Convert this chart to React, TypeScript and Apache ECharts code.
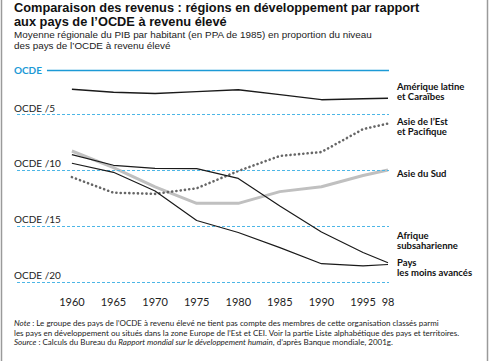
import React, { useEffect, useRef } from 'react';
import * as echarts from 'echarts';

const years = [1960, 1965, 1970, 1975, 1980, 1985, 1990, 1995, 1998];
// Values are the OECD divisor (income = OCDE / value)
const latinAmerica = [2.73, 3.0, 3.11, 2.94, 2.77, 3.21, 3.66, 3.57, 3.53];
const eastAsia = [10.6, 12.0, 12.1, 11.6, 10.05, 8.7, 8.35, 6.3, 5.8];
const southAsia = [8.26, 9.74, 11.48, 12.95, 12.95, 11.9, 11.46, 10.45, 9.96];
const subSaharan = [8.59, 9.54, 9.81, 9.84, 10.72, 13.19, 15.52, 17.35, 18.27];
const leastDeveloped = [9.36, 10.17, 11.84, 14.49, 15.56, 16.92, 18.36, 18.56, 18.43];

const xTickValues = [1960, 1965, 1970, 1975, 1980, 1985, 1990, 1995, 1998];
const refLevels = [5, 10, 15, 20];
const refLabels = ['OCDE /5', 'OCDE /10', 'OCDE /15', 'OCDE /20'];

const titleLines = [
  'Comparaison des revenus : régions en développement par rapport',
  'aux pays de l’OCDE à revenu élevé',
];
const subtitleLines = [
  'Moyenne régionale du PIB par habitant (en PPA de 1985) en proportion du niveau',
  'des pays de l’OCDE à revenu élevé',
];
const noteLines = [
  '{i|Note} : Le groupe des pays de l’OCDE à revenu élevé ne tient pas compte des membres de cette organisation classés parmi',
  'les pays en développement ou situés dans la zone Europe de l’Est et CEI. Voir la partie Liste alphabétique des pays et territoires.',
  '{i|Source} : Calculs du Bureau du {i|Rapport mondial sur le développement humain}, d’après Banque mondiale, 2001g.',
];

export default function App() {
  const ref = useRef<HTMLDivElement>(null);
  useEffect(() => {
    const chart = echarts.init(ref.current!, null, { renderer: 'svg' });
    const FONT = 'Lato, "Open Sans", sans-serif';
    const HEAD = '"Liberation Sans", Arial, sans-serif';
    const pairs = (arr: number[]) => years.map((y, i) => [y, arr[i]]);
    const xMin = 1953.4;
    const xMax = 1998.12;
    const BLUE = '#1c9ad6';
    const DASH = '#4db6e6';

    const markData: any[] = [
      [
        {
          coord: [1957.0, 1],
          lineStyle: { type: 'solid', color: BLUE, width: 1.3 },
          label: {
            show: true,
            position: 'start',
            formatter: 'OCDE',
            color: BLUE,
            fontWeight: 'bold',
            fontSize: 10,
            fontFamily: FONT,
            distance: 5,
          },
        },
        { coord: [xMax, 1] },
      ],
      ...refLevels.map((lv, i) => [
        {
          coord: [xMin, lv],
          label: {
            show: true,
            position: 'insideStartTop',
            formatter: refLabels[i],
            color: '#222',
            fontSize: 10,
            fontFamily: FONT,
            distance: [-3, 2],
          },
        },
        { coord: [xMax, lv] },
      ]),
    ];

    const endLabel = (dy: number) => ({
      show: true,
      formatter: (p: any) => p.seriesName,
      color: '#111',
      fontWeight: 'bold',
      fontSize: 9.5,
      lineHeight: 10,
      fontFamily: FONT,
      distance: 9,
      offset: [0, dy],
    });

    const blackLine = { color: '#1a1a1a', width: 1.2 };

    chart.setOption({
      animation: false,
      grid: { left: 17, right: 101, top: 70, bottom: 79 },
      xAxis: {
        type: 'value',
        min: xMin,
        max: xMax,
        axisLine: { show: false },
        axisTick: { show: false },
        splitLine: { show: false },
        axisLabel: {
          customValues: xTickValues,
          formatter: (v: number) => (v === 1998 ? '98' : String(v)),
          color: '#222',
          fontSize: 11,
          fontFamily: FONT,
          margin: 14,
        },
      },
      yAxis: {
        type: 'value',
        inverse: true,
        min: 1,
        max: 20,
        show: false,
        splitLine: { show: false },
      },
      series: [
        {
          type: 'line',
          name: 'Amérique latine\net Caraïbes',
          data: pairs(latinAmerica),
          symbol: 'none',
          lineStyle: { color: '#1a1a1a', width: 1.4 },
          endLabel: endLabel(-7),
          markLine: {
            silent: true,
            symbol: 'none',
            lineStyle: { type: [3, 2], color: DASH, width: 1 },
            data: markData,
            animation: false,
          },
          z: 3,
        },
        {
          type: 'line',
          name: 'Asie du Sud',
          data: pairs(southAsia),
          symbol: 'none',
          lineStyle: { color: '#c0c0c0', width: 3 },
          endLabel: endLabel(4),
          z: 2,
        },
        {
          type: 'line',
          name: 'Asie de l’Est\net Pacifique',
          data: pairs(eastAsia),
          symbol: 'none',
          lineStyle: { color: '#666666', width: 2.6, type: [0.1, 4.2], cap: 'round' },
          endLabel: endLabel(3),
          z: 4,
        },
        {
          type: 'line',
          name: 'Afrique\nsubsaharienne',
          data: pairs(subSaharan),
          symbol: 'none',
          lineStyle: blackLine,
          endLabel: endLabel(-22),
          z: 5,
        },
        {
          type: 'line',
          name: 'Pays\nles moins avancés',
          data: pairs(leastDeveloped),
          symbol: 'none',
          lineStyle: blackLine,
          endLabel: endLabel(3),
          z: 5,
        },
      ],
      graphic: [
        { type: 'line', shape: { x1: 1.5, y1: 0, x2: 1.5, y2: 361 }, style: { stroke: '#9a9a9a', lineWidth: 1.5 } },
        { type: 'line', shape: { x1: 487.5, y1: 0, x2: 487.5, y2: 361 }, style: { stroke: '#9a9a9a', lineWidth: 1.5 } },
        ...titleLines.map((t, i) => ({
          type: 'text',
          x: 14,
          y: 7.2 + i * 14.3,
          style: { text: t, font: `bold 12.8px ${HEAD}`, fill: '#111', textVerticalAlign: 'middle' },
        })),
        ...subtitleLines.map((t, i) => ({
          type: 'text',
          x: 14,
          y: 34.2 + i * 11.2,
          style: { text: t, font: `9.9px ${HEAD}`, fill: '#222', textVerticalAlign: 'middle' },
        })),
        {
          type: 'text',
          x: 14,
          y: 318.6,
          style: {
            text: noteLines.join('\n'),
            font: `8px ${FONT}`,
            lineHeight: 9.4,
            fill: '#222',
            textVerticalAlign: 'top',
            rich: { i: { fontStyle: 'italic', fontSize: 8, lineHeight: 9.4, fontFamily: FONT, fill: '#222' } },
          },
        },
      ],
    });
    return () => chart.dispose();
  }, []);
  return (
    <div
      ref={ref}
      style={{ position: 'fixed', left: 0, top: 0, width: 490, height: 361, background: '#fff' }}
    />
  );
}
